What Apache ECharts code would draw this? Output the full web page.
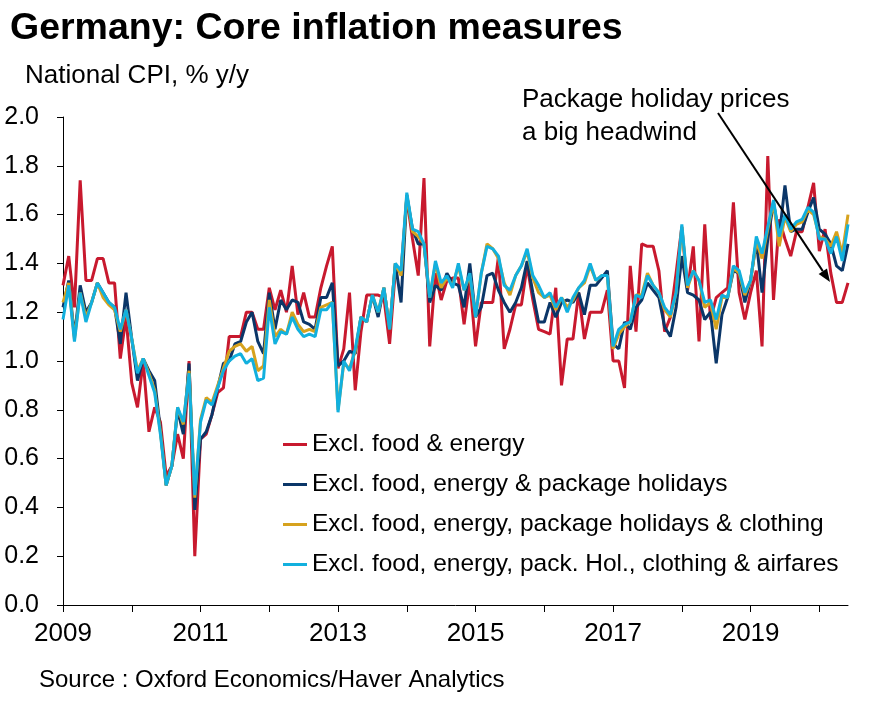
<!DOCTYPE html>
<html>
<head>
<meta charset="utf-8">
<script src="https://cdn.jsdelivr.net/npm/echarts@6/dist/echarts.min.js"></script>
<style>
    html, body { margin: 0; padding: 0; background: #fff; }
    #core-inflation { width: 885px; height: 707px; }
</style>
</head>
<body>
<div id="core-inflation"></div>
<script>
// monthly, Jan 2009 - Jun 2020
let months = [];
for (let y = 2009; y <= 2020; y++) {
    for (let m = 1; m <= 12; m++) {
        if (y === 2020 && m > 6) break;
        months.push(y + '-' + (m < 10 ? '0' + m : m));
    }
}

let seriesNames = [
    'Excl. food & energy',
    'Excl. food, energy & package holidays',
    'Excl. food, energy, package holidays & clothing',
    'Excl. food, energy, pack. Hol., clothing & airfares'
];

let exFoodEnergy = [
    1.31, 1.43, 1.22, 1.74, 1.33, 1.33, 1.42, 1.42, 1.32, 1.32, 1.01, 1.18,
    0.91, 0.81, 1.00, 0.71, 0.81, 0.75, 0.53, 0.57, 0.70, 0.60, 1.00, 0.20,
    0.68, 0.70, 0.78, 0.87, 0.89, 1.10, 1.10, 1.10, 1.20, 1.20, 1.13, 1.13,
    1.30, 1.21, 1.29, 1.20, 1.39, 1.19, 1.28, 1.18, 1.18, 1.30, 1.39, 1.47,
    0.97, 1.05, 1.28, 0.88, 1.12, 1.27, 1.27, 1.27, 1.26, 1.07, 1.37, 1.37,
    1.67, 1.50, 1.35, 1.75, 1.06, 1.36, 1.25, 1.33, 1.34, 1.34, 1.15, 1.33,
    1.06, 1.24, 1.24, 1.24, 1.43, 1.05, 1.13, 1.23, 1.23, 1.39, 1.25, 1.13,
    1.12, 1.11, 1.30, 0.90, 1.09, 1.09, 1.28, 1.09, 1.20, 1.20, 1.20, 1.29,
    1.00, 1.00, 0.89, 1.39, 1.12, 1.48, 1.47, 1.47, 1.37, 1.12, 1.18, 1.36,
    1.55, 1.29, 1.47, 1.08, 1.56, 1.17, 1.26, 1.28, 1.30, 1.65, 1.28, 1.17,
    1.28, 1.37, 1.06, 1.84, 1.25, 1.58, 1.50, 1.43, 1.53, 1.53, 1.63, 1.73,
    1.45, 1.54, 1.36, 1.24, 1.24, 1.32
];

let exPackHol = [
    1.22, 1.33, 1.10, 1.31, 1.20, 1.24, 1.32, 1.28, 1.24, 1.22, 1.07, 1.28,
    1.09, 0.92, 1.01, 0.96, 0.92, 0.72, 0.49, 0.57, 0.80, 0.70, 0.99, 0.39,
    0.68, 0.71, 0.78, 0.89, 0.99, 1.00, 1.07, 1.08, 1.16, 1.20, 1.08, 1.03,
    1.28, 1.13, 1.25, 1.21, 1.25, 1.24, 1.16, 1.15, 1.13, 1.26, 1.26, 1.32,
    0.98, 1.00, 1.04, 1.03, 1.18, 1.16, 1.27, 1.18, 1.30, 1.13, 1.40, 1.24,
    1.68, 1.54, 1.48, 1.48, 1.24, 1.31, 1.29, 1.36, 1.32, 1.31, 1.22, 1.40,
    1.18, 1.22, 1.35, 1.36, 1.29, 1.24, 1.20, 1.24, 1.30, 1.41, 1.28, 1.16,
    1.16, 1.24, 1.18, 1.24, 1.25, 1.24, 1.28, 1.19, 1.31, 1.31, 1.34, 1.37,
    1.07, 1.05, 1.16, 1.13, 1.22, 1.25, 1.32, 1.29, 1.26, 1.14, 1.10, 1.22,
    1.43, 1.28, 1.27, 1.25, 1.17, 1.20, 0.99, 1.19, 1.26, 1.37, 1.36, 1.24,
    1.33, 1.49, 1.28, 1.50, 1.65, 1.51, 1.72, 1.53, 1.54, 1.54, 1.61, 1.67,
    1.54, 1.52, 1.48, 1.39, 1.37, 1.48
];

let exPackHolClothing = [
    1.24, 1.32, 1.09, 1.28, 1.18, 1.24, 1.32, 1.26, 1.23, 1.21, 1.12, 1.21,
    1.09, 0.96, 1.01, 0.95, 0.88, 0.71, 0.49, 0.57, 0.81, 0.74, 0.96, 0.44,
    0.76, 0.85, 0.83, 0.90, 0.97, 1.04, 1.06, 1.07, 1.04, 1.06, 0.96, 0.98,
    1.25, 1.10, 1.13, 1.11, 1.20, 1.15, 1.12, 1.13, 1.12, 1.22, 1.23, 1.24,
    0.80, 0.99, 0.97, 1.04, 1.18, 1.16, 1.27, 1.20, 1.30, 1.13, 1.40, 1.35,
    1.68, 1.53, 1.51, 1.48, 1.26, 1.40, 1.30, 1.34, 1.31, 1.39, 1.29, 1.35,
    1.18, 1.36, 1.48, 1.46, 1.42, 1.32, 1.27, 1.35, 1.39, 1.45, 1.34, 1.28,
    1.26, 1.27, 1.21, 1.26, 1.22, 1.25, 1.30, 1.32, 1.39, 1.33, 1.35, 1.35,
    1.05, 1.11, 1.14, 1.16, 1.27, 1.27, 1.36, 1.31, 1.28, 1.21, 1.18, 1.28,
    1.55, 1.30, 1.37, 1.33, 1.22, 1.24, 1.13, 1.26, 1.26, 1.38, 1.36, 1.27,
    1.33, 1.49, 1.42, 1.54, 1.65, 1.47, 1.59, 1.53, 1.56, 1.57, 1.62, 1.60,
    1.51, 1.50, 1.47, 1.53, 1.44, 1.60
];

let exPackHolClothingAir = [
    1.17, 1.31, 1.08, 1.28, 1.16, 1.24, 1.32, 1.28, 1.24, 1.22, 1.13, 1.21,
    1.09, 0.95, 1.01, 0.94, 0.87, 0.70, 0.49, 0.57, 0.81, 0.75, 0.95, 0.45,
    0.75, 0.84, 0.82, 0.89, 0.96, 1.00, 1.02, 1.03, 0.99, 1.01, 0.92, 0.93,
    1.22, 1.07, 1.12, 1.11, 1.18, 1.13, 1.10, 1.11, 1.10, 1.21, 1.21, 1.24,
    0.79, 1.00, 0.96, 1.05, 1.18, 1.16, 1.27, 1.20, 1.30, 1.13, 1.40, 1.37,
    1.69, 1.54, 1.53, 1.48, 1.26, 1.41, 1.32, 1.35, 1.30, 1.40, 1.29, 1.36,
    1.18, 1.36, 1.47, 1.46, 1.43, 1.31, 1.29, 1.35, 1.39, 1.46, 1.35, 1.31,
    1.26, 1.28, 1.22, 1.26, 1.20, 1.26, 1.30, 1.33, 1.40, 1.33, 1.35, 1.35,
    1.06, 1.13, 1.15, 1.16, 1.27, 1.26, 1.35, 1.31, 1.28, 1.22, 1.19, 1.28,
    1.56, 1.31, 1.37, 1.33, 1.24, 1.25, 1.17, 1.27, 1.26, 1.39, 1.37, 1.28,
    1.33, 1.51, 1.44, 1.55, 1.66, 1.51, 1.60, 1.54, 1.57, 1.58, 1.63, 1.61,
    1.50, 1.50, 1.44, 1.51, 1.41, 1.56
];

let yTicks = [0, 0.2, 0.4, 0.6, 0.8, 1.0, 1.2, 1.4, 1.6, 1.8, 2.0];

let color = ['#C8192E', '#0B3668', '#D6A21E', '#12B0DE'];
let font = '"Liberation Sans", Arial, sans-serif';

let lineSeries = (name, data, c) => {
    return {
        name: name,
        type: 'line',
        data: data,
        symbol: 'none',
        smooth: false,
        color: c,
        lineStyle: {
            color: c,
            width: 3
        }
    };
};

// arrow for the annotation
let arrowFrom = [718, 113];
let arrowTo = [830, 282];
let dx = arrowTo[0] - arrowFrom[0];
let dy = arrowTo[1] - arrowFrom[1];
let len = Math.sqrt(dx * dx + dy * dy);
let ux = dx / len, uy = dy / len;
let headLen = 13, headHalf = 5;
let baseX = arrowTo[0] - ux * headLen, baseY = arrowTo[1] - uy * headLen;

let option = {
    animation: false,
    backgroundColor: '#ffffff',
    textStyle: {
        fontFamily: font
    },
    title: [
        {
            text: 'Germany: Core inflation measures',
            left: 5,
            top: 5,
            textStyle: {fontSize: 37.5, fontWeight: 'bold', color: '#000', fontFamily: font}
        },
        {
            text: 'National CPI, % y/y',
            left: 20,
            top: 58,
            textStyle: {fontSize: 26, fontWeight: 'normal', color: '#000', fontFamily: font}
        },
        {
            text: 'Package holiday prices\na big headwind',
            left: 517,
            top: 78,
            textStyle: {fontSize: 26, lineHeight: 33, fontWeight: 'normal', color: '#000', fontFamily: font}
        },
        {
            text: 'Source : Oxford Economics/Haver Analytics',
            left: 34,
            top: 663,
            textStyle: {fontSize: 24, fontWeight: 'normal', color: '#000', fontFamily: font}
        }
    ],
    legend: {
        orient: 'vertical',
        left: 283,
        top: 430,
        padding: 0,
        icon: 'rect',
        itemWidth: 24,
        itemHeight: 3,
        itemGap: 11,
        data: seriesNames,
        textStyle: {
            fontSize: 24.5,
            lineHeight: 29,
            color: '#000',
            fontFamily: font
        }
    },
    grid: {
        left: 63,
        right: 37,
        top: 117,
        bottom: 102,
        containLabel: false
    },
    xAxis: {
        type: 'category',
        data: months,
        boundaryGap: false,
        axisLine: {lineStyle: {color: '#000', width: 1}},
        axisTick: {
            show: true,
            length: 7,
            interval: (i) => i % 12 === 0,
            lineStyle: {color: '#000'}
        },
        axisLabel: {
            interval: (i) => i % 24 === 0,
            formatter: (v) => v.slice(0, 4),
            fontSize: 26,
            color: '#000',
            margin: 16,
            fontFamily: font
        },
        splitLine: {show: false}
    },
    yAxis: {
        type: 'value',
        min: yTicks[0],
        max: yTicks[yTicks.length - 1],
        interval: 0.2,
        axisLine: {show: true, lineStyle: {color: '#000', width: 1}},
        axisTick: {show: true, length: 6, lineStyle: {color: '#000'}},
        axisLabel: {
            formatter: (v) => v.toFixed(1),
            fontSize: 25,
            color: '#000',
            margin: 24,
            fontFamily: font
        },
        splitLine: {show: false}
    },
    graphic: [
        {
            type: 'line',
            shape: {x1: arrowFrom[0], y1: arrowFrom[1], x2: baseX, y2: baseY},
            style: {stroke: '#000', lineWidth: 2},
            z: 100
        },
        {
            type: 'polygon',
            shape: {
                points: [
                    arrowTo,
                    [baseX - uy * headHalf, baseY + ux * headHalf],
                    [baseX + uy * headHalf, baseY - ux * headHalf]
                ]
            },
            style: {fill: '#000'},
            z: 100
        }
    ],
    series: [
        lineSeries(seriesNames[0], exFoodEnergy, color[0]),
        lineSeries(seriesNames[1], exPackHol, color[1]),
        lineSeries(seriesNames[2], exPackHolClothing, color[2]),
        lineSeries(seriesNames[3], exPackHolClothingAir, color[3])
    ]
};

let chart = echarts.init(document.getElementById('core-inflation'));
chart.setOption(option);
</script>
</body>
</html>
